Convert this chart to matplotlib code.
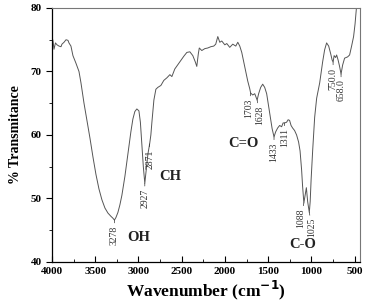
import matplotlib
matplotlib.use("Agg")
from matplotlib import pyplot as plt
from matplotlib.ticker import MultipleLocator

plt.rcParams['font.family'] = ['Liberation Serif', 'DejaVu Serif']

# FTIR spectrum (wavenumber, % transmittance)
wavenumber = [4000, 3988, 3977, 3960, 3942, 3919, 3896, 3885, 3861, 3838,
              3815, 3804, 3781, 3758, 3723, 3688, 3665, 3630, 3596, 3561,
              3526, 3492, 3457, 3423, 3388, 3353, 3319, 3296, 3278, 3261,
              3238, 3215, 3192, 3157, 3122, 3088, 3065, 3042, 3019, 2995,
              2978, 2961, 2944, 2927, 2910, 2891, 2871, 2857, 2845, 2822,
              2799, 2776, 2741, 2707, 2672, 2637, 2614, 2580, 2522, 2476,
              2441, 2406, 2372, 2343, 2326, 2308, 2297, 2268, 2233, 2199,
              2164, 2130, 2107, 2083, 2060, 2037, 2002, 1979, 1945, 1910,
              1875, 1852, 1829, 1806, 1783, 1760, 1737, 1714, 1703, 1679,
              1656, 1628, 1611, 1587, 1564, 1541, 1518, 1495, 1472, 1455,
              1433, 1414, 1391, 1368, 1345, 1328, 1311, 1288, 1270, 1253,
              1236, 1218, 1195, 1172, 1149, 1132, 1114, 1103, 1088, 1073,
              1059, 1044, 1025, 1015, 1004, 986, 963, 940, 905, 871,
              848, 825, 801, 778, 761, 750, 738, 721, 709, 692,
              675, 658, 640, 617, 582, 559, 536, 513, 496, 478, 467]
transmittance = [75.4, 74.8, 73.5, 74.5, 74.2, 74.0, 73.9, 74.3, 74.6, 75.0,
                 74.9, 74.5, 74.0, 72.5, 71.3, 70.0, 68.2, 65.0, 62.3, 59.5,
                 56.5, 53.8, 51.5, 49.8, 48.5, 47.7, 47.2, 46.9, 46.6, 47.0,
                 47.8, 49.0, 50.5, 53.5, 57.0, 60.5, 62.5, 63.7, 64.1, 63.8,
                 62.0, 58.5, 55.0, 52.4, 54.5, 57.0, 58.6, 60.0, 62.0, 65.5,
                 67.2, 67.5, 67.8, 68.6, 69.0, 69.5, 69.2, 70.4, 71.5, 72.4,
                 73.0, 73.1, 72.5, 71.5, 70.8, 72.8, 73.7, 73.3, 73.6, 73.7,
                 73.9, 74.0, 74.3, 75.5, 74.6, 74.8, 74.2, 74.4, 73.8, 74.3,
                 74.0, 74.6, 74.0, 73.0, 71.5, 70.0, 68.5, 67.3, 66.6, 66.3,
                 66.5, 65.5, 66.5, 67.5, 68.0, 67.5, 66.5, 64.5, 62.5, 61.0,
                 59.7, 60.5, 61.1, 61.5, 61.3, 61.9, 61.9, 62.0, 62.4, 62.3,
                 61.5, 61.1, 60.7, 60.0, 58.9, 57.5, 54.5, 52.0, 49.3, 50.5,
                 51.7, 49.5, 47.8, 49.5, 53.0, 57.6, 62.8, 65.8, 68.2, 71.5,
                 73.4, 74.5, 74.0, 72.8, 71.8, 71.5, 72.5, 72.2, 72.6, 71.8,
                 70.8, 69.6, 71.0, 72.1, 72.3, 72.6, 74.0, 75.5, 77.5, 80.5, 82.0]

# peak labels
peak_wn = [3278, 2927, 2871, 1703, 1628, 1433, 1311, 1088, 1025, 750, 658]
peak_T = [46.6, 52.4, 58.6, 66.6, 65.5, 59.7, 61.9, 49.3, 47.8, 71.5, 69.6]
peak_text = ['3278', '2927', '2871', '1703', '1628', '1433', '1311',
             '1088', '1025', '750.0', '658.0']
# small sideways nudges (points) so neighbouring labels do not collide
peak_dx = [0, 0, 0, -1.5, 1.5, 0, 0, -2, 2, 0, 0]

# group labels
group_text = ['OH', 'CH', 'C=O', 'C-O']
group_wn = [2995, 2637, 1783, 1103]
group_T = [43.9, 53.4, 58.7, 42.7]

fig = plt.figure(figsize=(3.68, 3.07), dpi=100)
ax = fig.add_axes([0.1413, 0.1466, 0.8367, 0.8274])

ax.plot(wavenumber, transmittance, color='#555555', lw=0.7)

for w, t, s, dx in zip(peak_wn, peak_T, peak_text, peak_dx):
    ax.annotate(s, xy=(w, t), xytext=(dx, -4), textcoords='offset points',
                rotation=90, ha='center', va='top', fontsize=7,
                color='#333333',
                arrowprops=dict(arrowstyle='-', lw=0.5, color='#333333',
                                shrinkA=0, shrinkB=0))

for s, w, t in zip(group_text, group_wn, group_T):
    ax.text(w, t, s, ha='center', va='center', fontsize=10.5,
            fontweight='bold', color='#222222')

ax.set_xlim(4000, 440)
ax.set_ylim(40, 80)
ax.xaxis.set_major_locator(MultipleLocator(500))
ax.xaxis.set_minor_locator(MultipleLocator(250))
ax.yaxis.set_major_locator(MultipleLocator(10))
ax.yaxis.set_minor_locator(MultipleLocator(5))
ax.tick_params(axis='x', which='both', direction='in', labelsize=8)
ax.tick_params(axis='y', which='both', direction='out', labelsize=8)
ax.tick_params(which='major', length=4, width=0.8)
ax.tick_params(which='minor', length=2.5, width=0.6)
for lab in ax.get_xticklabels() + ax.get_yticklabels():
    lab.set_fontweight('bold')

for side in ['top', 'right']:
    ax.spines[side].set_color('#777777')
for side in ['left', 'bottom']:
    ax.spines[side].set_linewidth(0.9)

ax.set_xlabel('Wavenumber (cm$^{\\mathbf{-1}}$)', fontsize=12.5,
              fontweight='bold', labelpad=2)
ax.set_ylabel('% Transmitance', fontsize=10, fontweight='bold', labelpad=6)

fig.savefig('out.png', dpi=100)
